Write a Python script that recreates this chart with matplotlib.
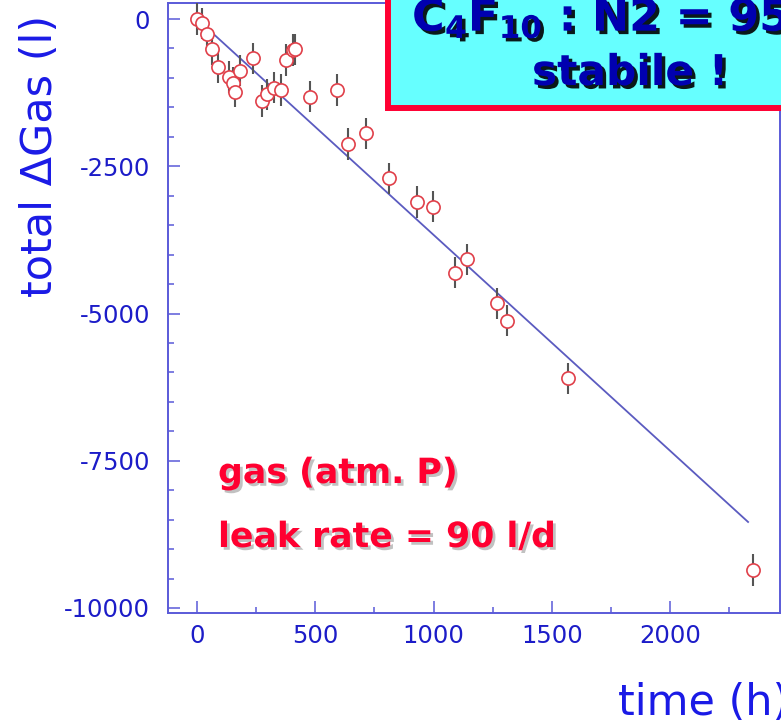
import matplotlib
matplotlib.use('Agg')
import matplotlib.pyplot as plt
import matplotlib.patheffects as pe
from matplotlib.patches import Rectangle
from matplotlib.ticker import MultipleLocator
import numpy as np

# ---- data ----
time_h = [0, 20, 41, 62, 88, 134, 153, 161, 182, 236, 276, 297, 326, 354, 376,
          405, 414, 478, 593, 638, 715, 811, 929, 999, 1091, 1140, 1267, 1310,
          1570, 2350]
delta_gas_l = [0, -73, -260, -509, -815, -985, -1081, -1234, -878, -667, -1392,
               -1278, -1166, -1205, -696, -526, -514, -1319, -1205, -2122, -1941,
               -2705, -3107, -3187, -4307, -4080, -4827, -5122, -6100, -9355]
gas_err_l = 265
fit_slope_l_per_h = -3.665
fit_intercept_l = 0
fit_range_h = [0, 2330]
x_ticks = [0, 500, 1000, 1500, 2000]
y_ticks = [0, -2500, -5000, -7500, -10000]

plt.rcParams['axes.unicode_minus'] = False
plt.rcParams['mathtext.fontset'] = 'dejavusans'
plt.rcParams['font.family'] = ['DejaVu Sans']

W, H = 781, 720
fig = plt.figure(figsize=(W / 100, H / 100), dpi=100)
ax = fig.add_axes([168 / W, 1 - 613 / H, 612 / W, 610 / H])

spine_c = '#5a5ad8'
tick_c = '#1c1cc8'
label_c = '#1a1ae6'

# fit line
fx = np.array(fit_range_h, dtype=float)
ax.plot(fx, fit_intercept_l + fit_slope_l_per_h * fx, color='#5b5bc0', lw=1.3, zorder=2)

# error bars + hollow markers
ax.errorbar(time_h, delta_gas_l, yerr=gas_err_l, fmt='none', ecolor='#555555',
            elinewidth=1.5, capsize=0, zorder=3)
ax.plot(time_h, delta_gas_l, 'o', ms=9.5, mfc='white', mec='#e0404a', mew=1.2,
        ls='none', zorder=4)

ax.set_xlim(-123, 2465)
ax.set_ylim(-10085, 272)
ax.set_xticks(x_ticks)
ax.set_yticks(y_ticks)
ax.xaxis.set_minor_locator(MultipleLocator(250))
ax.yaxis.set_minor_locator(MultipleLocator(500))
ax.tick_params(which='both', direction='in', color=spine_c, width=1.1,
               top=False, right=False)
ax.tick_params(which='major', length=8.6)
ax.tick_params(which='minor', length=4.3)
ax.tick_params(axis='y', which='major', pad=13, labelsize=17.5, labelcolor=tick_c)
ax.tick_params(axis='x', which='major', pad=8, labelsize=17.5, labelcolor=tick_c)
for s in ax.spines.values():
    s.set_color(spine_c)
    s.set_linewidth(1.4)

ax.set_ylabel('total ΔGas (l)', fontsize=31, color=label_c, va='center')
ax.yaxis.set_label_coords((40 - 168) / 612, (613 - 156) / 610)
ax.set_xlabel('time (h)', fontsize=31, color=label_c, ha='left', va='baseline')
ax.xaxis.set_label_coords((618 - 168) / 612, (613 - 715) / 610)

# red annotations
red = '#ff0030'
shadow_red = [pe.withSimplePatchShadow(offset=(2, -2), shadow_rgbFace='#999999', alpha=0.6)]
ax.text((218 - 168) / 612, (613 - 483) / 610, 'gas (atm. P)', transform=ax.transAxes,
        fontsize=25, fontweight='bold', color=red, ha='left', va='baseline',
        path_effects=shadow_red, zorder=6)
ax.text((218 - 168) / 612, (613 - 547) / 610, 'leak rate = 90 l/d', transform=ax.transAxes,
        fontsize=25, fontweight='bold', color=red, ha='left', va='baseline',
        path_effects=shadow_red, zorder=6)

# cyan box at the top right
box = Rectangle((388 / W, 1 - 108 / H), 500 / W, 200 / H, transform=fig.transFigure,
                facecolor='#66ffff', edgecolor='#ff0033', linewidth=4.3, zorder=5,
                clip_on=False)
fig.add_artist(box)
shadow_blk = [pe.withSimplePatchShadow(offset=(2.5, -2.5), shadow_rgbFace='black', alpha=0.9)]
fig.text(412 / W, 1 - 31 / H, r'$\mathbf{C_4F_{10}}$ : N2 = 95', fontsize=32,
         fontweight='bold', color='#0000b0', ha='left', va='baseline',
         path_effects=shadow_blk, zorder=7)
fig.text(630 / W, 1 - 85 / H, 'stabile !', fontsize=30.5, fontweight='bold',
         color='#0000b0', ha='center', va='baseline', path_effects=shadow_blk, zorder=7)

fig.savefig('out.png', dpi=100)
